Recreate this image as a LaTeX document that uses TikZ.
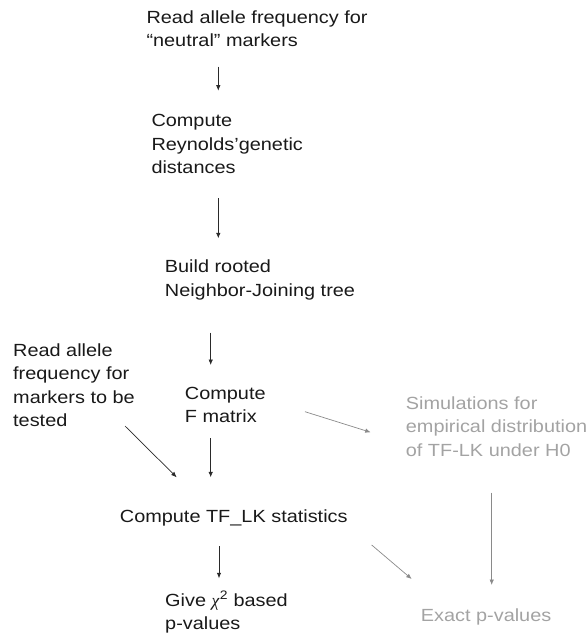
\documentclass[tikz,border=0pt]{standalone}
\usepackage{fontspec}
\setmainfont[FakeStretch=1.13]{Liberation Sans}
\newfontfamily\chifont{Liberation Serif}
\usetikzlibrary{arrows.meta,calc}
\definecolor{grtext}{HTML}{A3A3A3}
\definecolor{grline}{HTML}{8A8A8A}
\definecolor{bkline}{HTML}{2A2A2A}
\begin{document}
\begin{tikzpicture}[x=1pt,y=-1pt,
  lbl/.style={anchor=base west,inner sep=0pt,align=left,
    font=\fontsize{17.6pt}{23.5pt}\selectfont,text=black!90},
  glbl/.style={lbl,text=grtext},
  arr/.style={draw=bkline,line width=0.7pt,-{Latex[length=5.5pt,width=4.5pt]}},
  garr/.style={draw=grline,line width=0.7pt,-{Latex[length=5.5pt,width=4.5pt]}}]
\useasboundingbox (0,0) rectangle (588,633);
% nodes placed by the baseline of their last line
\node[lbl] (n1) at (146.3,46.8) {Read allele frequency for\\“neutral” markers};
\node[lbl] (n2) at (151.3,173.7) {Compute\\Reynolds’genetic\\distances};
\node[lbl] (n3) at (164.7,296.2) {Build rooted\\Neighbor-Joining tree};
\node[lbl] (nt) at (13,426.5) {Read allele\\frequency for\\markers to be\\tested};
\node[lbl] (nf) at (184.7,422.8) {Compute\\F matrix};
\node[glbl] (ns) at (405.7,456.3) {Simulations for\\empirical distribution\\of TF-LK under H0};
\node[lbl] (nk) at (119.7,522.7) {Compute TF\_LK statistics};
\node[lbl] (ng) at (165,629.5) {Give {\chifont\itshape χ}\kern0.5pt\textsuperscript{2} based\\p-values};
\node[glbl] (ne) at (420.7,621.7) {Exact p-values};
\draw[arr] ($(n1.base west)+(72,19.9)$) -- ($(n2.base west)+(67,-83)$);
\draw[arr] ($(n2.base west)+(67,24.6)$) -- ($(n3.base west)+(53.6,-57.9)$);
\draw[arr] ($(n3.base west)+(46,36.5)$) -- ($(nf.base west)+(26,-57.8)$);
\draw[arr] ($(nt.base west)+(112,-0.5)$) -- ($(nk.base west)+(57,-45.4)$);
\draw[arr] ($(nf.base west)+(26,15.5)$) -- ($(nk.base west)+(91,-45.4)$);
\draw[garr] ($(nf.base west)+(120.3,-11.1)$) -- ($(ns.base west)+(-35,-24)$);
\draw[arr] ($(nk.base west)+(99.3,23.3)$) -- ($(ng.base west)+(54,-51.2)$);
\draw[garr] ($(nk.base west)+(252,22.3)$) -- ($(ne.base west)+(-9,-42.7)$);
\draw[garr] ($(ns.base west)+(86,36.4)$) -- ($(ne.base west)+(71,-36.7)$);
\end{tikzpicture}
\end{document}
